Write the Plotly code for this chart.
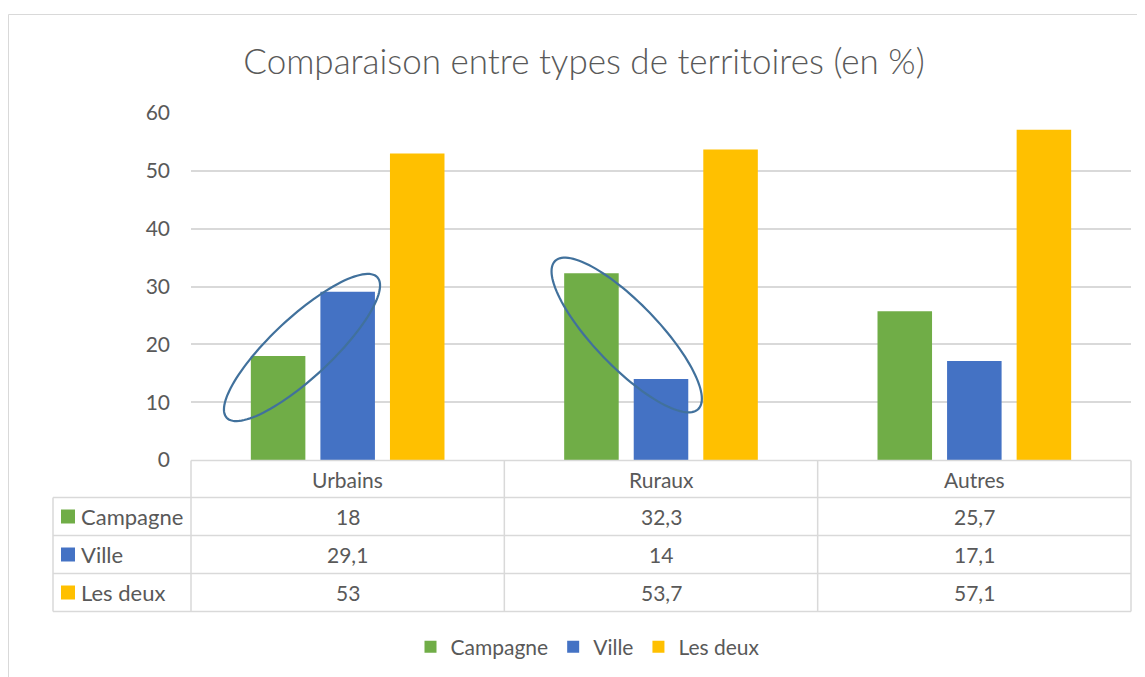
import math
import plotly.graph_objects as go

# ---- data ----
categories = ["Urbains", "Ruraux", "Autres"]
series_names = ["Campagne", "Ville", "Les deux"]
campagne = [18, 32.3, 25.7]
ville = [29.1, 14, 17.1]
les_deux = [53, 53.7, 57.1]
series_values = [campagne, ville, les_deux]
y_ticks = [0, 10, 20, 30, 40, 50, 60]
title_text = "Comparaison entre types de territoires (en %)"

# ---- style ----
colors = ["#70AD47", "#4472C4", "#FFC000"]
TEXT = "#595959"
GRID = "#D9D9D9"
FONT = "Lato"
FS = 21

OFF = 8  # page body margin
WIN_W, WIN_H = 1145, 677
W_FIG, H_FIG = WIN_W - OFF, WIN_H - OFF
# plot area in window pixels
L, R, T, B = 191, 1131, 113, 460
PW, PH = R - L, B - T


def px2x(px):
    return (px - L) / PW


def py2y(py):
    return (B - py) / PH


def fmt(v):
    return f"{v:g}".replace(".", ",")


fig = go.Figure()
for name, vals, col in zip(series_names, series_values, colors):
    fig.add_trace(go.Bar(x=categories, y=vals, name=name,
                         marker=dict(color=col, line=dict(width=0))))

shapes = []
annotations = []

# outer chart border
shapes.append(dict(type="rect", xref="paper", yref="paper",
                   x0=px2x(8.5), x1=px2x(1200), y0=py2y(14.5), y1=py2y(720),
                   line=dict(color=GRID, width=1), layer="below"))

# data table lines
row_y = [460.5, 497.5, 535.5, 573.5, 611.5]
col_x = [L, L + PW / 3, L + 2 * PW / 3, R]
tbl_line = dict(color=GRID, width=1.5)
for i, yy in enumerate(row_y):
    x0 = L if i == 0 else 53
    shapes.append(dict(type="line", xref="paper", yref="paper",
                       x0=px2x(x0), x1=px2x(R), y0=py2y(yy), y1=py2y(yy),
                       line=tbl_line))
for xx in col_x:
    shapes.append(dict(type="line", xref="paper", yref="paper",
                       x0=px2x(xx), x1=px2x(xx), y0=py2y(row_y[0]), y1=py2y(row_y[-1]),
                       line=tbl_line))
shapes.append(dict(type="line", xref="paper", yref="paper",
                   x0=px2x(53), x1=px2x(53), y0=py2y(row_y[1]), y1=py2y(row_y[-1]),
                   line=tbl_line))

# header texts
for i, c in enumerate(categories):
    annotations.append(dict(text=c, x=i, xref="x", y=py2y((row_y[0] + row_y[1]) / 2),
                            yref="paper", showarrow=False, xanchor="center", yanchor="middle",
                            font=dict(family=FONT, size=FS, color=TEXT)))
# rows
for r, (name, vals, col) in enumerate(zip(series_names, series_values, colors)):
    yc = (row_y[r + 1] + row_y[r + 2]) / 2
    shapes.append(dict(type="rect", xref="paper", yref="paper",
                       x0=px2x(61), x1=px2x(75), y0=py2y(yc - 7), y1=py2y(yc + 7),
                       fillcolor=col, line=dict(width=0)))
    annotations.append(dict(text=name, x=px2x(79), xref="paper", y=py2y(yc), yref="paper",
                            showarrow=False, xanchor="left", yanchor="middle",
                            font=dict(family=FONT, size=FS + 1, color=TEXT)))
    for i, v in enumerate(vals):
        annotations.append(dict(text=fmt(v), x=i, xref="x", y=py2y(yc), yref="paper",
                                showarrow=False, xanchor="center", yanchor="middle",
                                font=dict(family=FONT, size=FS, color=TEXT)))


# hand-drawn ellipses (annotation shapes)
def ellipse_path(cx, cy, a, b, theta_deg, n=120):
    th = math.radians(theta_deg)
    pts = []
    for k in range(n):
        t = 2 * math.pi * k / n
        px = cx + a * math.cos(th) * math.cos(t) - b * math.sin(th) * math.sin(t)
        py = cy + a * math.sin(th) * math.cos(t) + b * math.cos(th) * math.sin(t)
        pts.append((px2x(px), py2y(py)))
    return "M" + " L".join(f"{x:.5f},{y:.5f}" for x, y in pts) + " Z"


for (cx, cy, a, b, th) in [(302, 347.5, 103, 30, -43), (626.7, 335, 103, 32, 46)]:
    shapes.append(dict(type="path", xref="paper", yref="paper",
                       path=ellipse_path(cx, cy, a, b, th),
                       line=dict(color="#41719C", width=2.2), fillcolor="rgba(0,0,0,0)"))

fig.update_layout(
    width=W_FIG, height=H_FIG,
    margin=dict(l=L - OFF, r=WIN_W - R, t=T - OFF, b=WIN_H - B, pad=0, autoexpand=False),
    paper_bgcolor="white", plot_bgcolor="white",
    barmode="group", bargap=0.334, bargroupgap=0.216,
    title=dict(text=title_text, x=(584 - OFF) / W_FIG, xref="container", xanchor="center",
               y=1 - (62 - OFF) / H_FIG, yref="container", yanchor="middle",
               font=dict(family=FONT, size=35, color=TEXT, weight=300)),
    xaxis=dict(range=[-0.5, 2.5], showticklabels=False, showgrid=False,
               zeroline=False, showline=False, ticks=""),
    yaxis=dict(range=[0, 60], tickvals=y_ticks, showgrid=True, gridcolor=GRID, gridwidth=1.5,
               zeroline=False, showline=False, ticks="", ticklabelstandoff=20,
               tickfont=dict(family=FONT, size=FS, color=TEXT)),
    legend=dict(orientation="h", x=(588 - OFF) / W_FIG, xref="container", xanchor="center",
                y=py2y(647), yref="paper", yanchor="middle",
                font=dict(family=FONT, size=FS, color=TEXT)),
    shapes=shapes, annotations=annotations,
    font=dict(family=FONT, color=TEXT),
)

fig.write_html("out.html")
